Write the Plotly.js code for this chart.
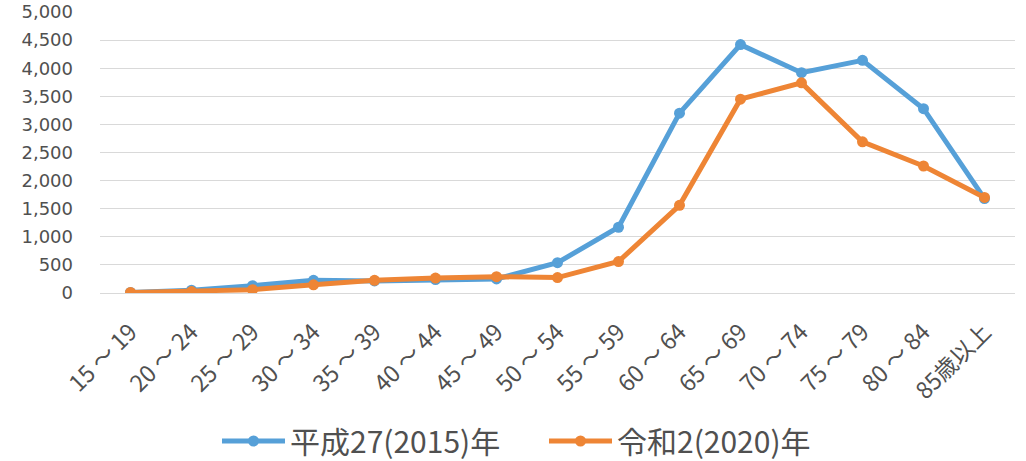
<!DOCTYPE html>
<html>
<head>
<meta charset="utf-8">
<script src="https://cdn.plot.ly/plotly-3.0.1.min.js"></script>
<style>
  html, body { margin: 0; padding: 0; background: #ffffff; }
  #chart { width: 1026px; height: 461px; }
</style>
</head>
<body>
<div id="chart"></div>
<script>
// Age groups (x axis categories)
const ageGroups = [
  "15 ～ 19", "20 ～ 24", "25 ～ 29", "30 ～ 34", "35 ～ 39", "40 ～ 44", "45 ～ 49",
  "50 ～ 54", "55 ～ 59", "60 ～ 64", "65 ～ 69", "70 ～ 74", "75 ～ 79", "80 ～ 84", "85歳以上"
];

// Series values per age group
const values2015 = [10, 50, 130, 225, 215, 240, 250, 540, 1170, 3200, 4420, 3920, 4140, 3280, 1680];
const values2020 = [10, 25, 60, 145, 225, 265, 290, 275, 560, 1560, 3450, 3740, 2690, 2260, 1700];

// Series names
const name2015 = "平成27(2015)年";
const name2020 = "令和2(2020)年";

// Y axis ticks
const yTickValues = [0, 500, 1000, 1500, 2000, 2500, 3000, 3500, 4000, 4500, 5000];
const yTickLabels = ["0", "500", "1,000", "1,500", "2,000", "2,500", "3,000", "3,500", "4,000", "4,500", "5,000"];

const FONT = "'Noto Sans CJK JP', 'Noto Sans', sans-serif";
const NUM_FONT = "'DejaVu Sans', 'Noto Sans', sans-serif";
const BLUE = "#56A0D8";
const ORANGE = "#EE8535";
const TEXT = "#505050";

const traces = [
  {
    x: ageGroups, y: values2015, name: name2015,
    type: "scatter", mode: "lines+markers",
    line: { color: BLUE, width: 5 },
    marker: { color: BLUE, size: 11 }
  },
  {
    x: ageGroups, y: values2020, name: name2020,
    type: "scatter", mode: "lines+markers",
    line: { color: ORANGE, width: 5 },
    marker: { color: ORANGE, size: 11 }
  }
];

const layout = {
  width: 1026, height: 461,
  margin: { l: 100, r: 11, t: 12, b: 168 },
  paper_bgcolor: "#ffffff",
  plot_bgcolor: "#ffffff",
  font: { family: FONT, color: TEXT },
  showlegend: true,
  legend: {
    orientation: "h",
    xref: "container", yref: "container",
    x: 0.2115, xanchor: "left",
    y: 0.0434, yanchor: "middle",
    font: { family: FONT, size: 30, color: TEXT },
    itemwidth: 63,
    entrywidth: 249,
    entrywidthmode: "pixels",
    tracegroupgap: 0
  },
  xaxis: {
    type: "category",
    range: [-0.5, 14.5],
    tickangle: -45,
    tickfont: { family: FONT, size: 23, color: TEXT },
    showgrid: false,
    showline: false,
    zeroline: false,
    ticks: "",
    ticklabelstandoff: 20,
    automargin: false,
    fixedrange: true
  },
  yaxis: {
    range: [0, 5000.5],
    tickvals: yTickValues,
    ticktext: yTickLabels,
    tickfont: { family: NUM_FONT, size: 18, color: TEXT },
    ticklabeloverflow: "allow",
    showgrid: true,
    gridcolor: "#d9d9d9",
    gridwidth: 1,
    zeroline: true,
    zerolinecolor: "#d9d9d9",
    zerolinewidth: 1,
    showline: false,
    ticks: "",
    ticklabelstandoff: 26,
    automargin: false,
    fixedrange: true
  }
};

Plotly.newPlot("chart", traces, layout, { displayModeBar: false, staticPlot: true });
</script>
</body>
</html>
